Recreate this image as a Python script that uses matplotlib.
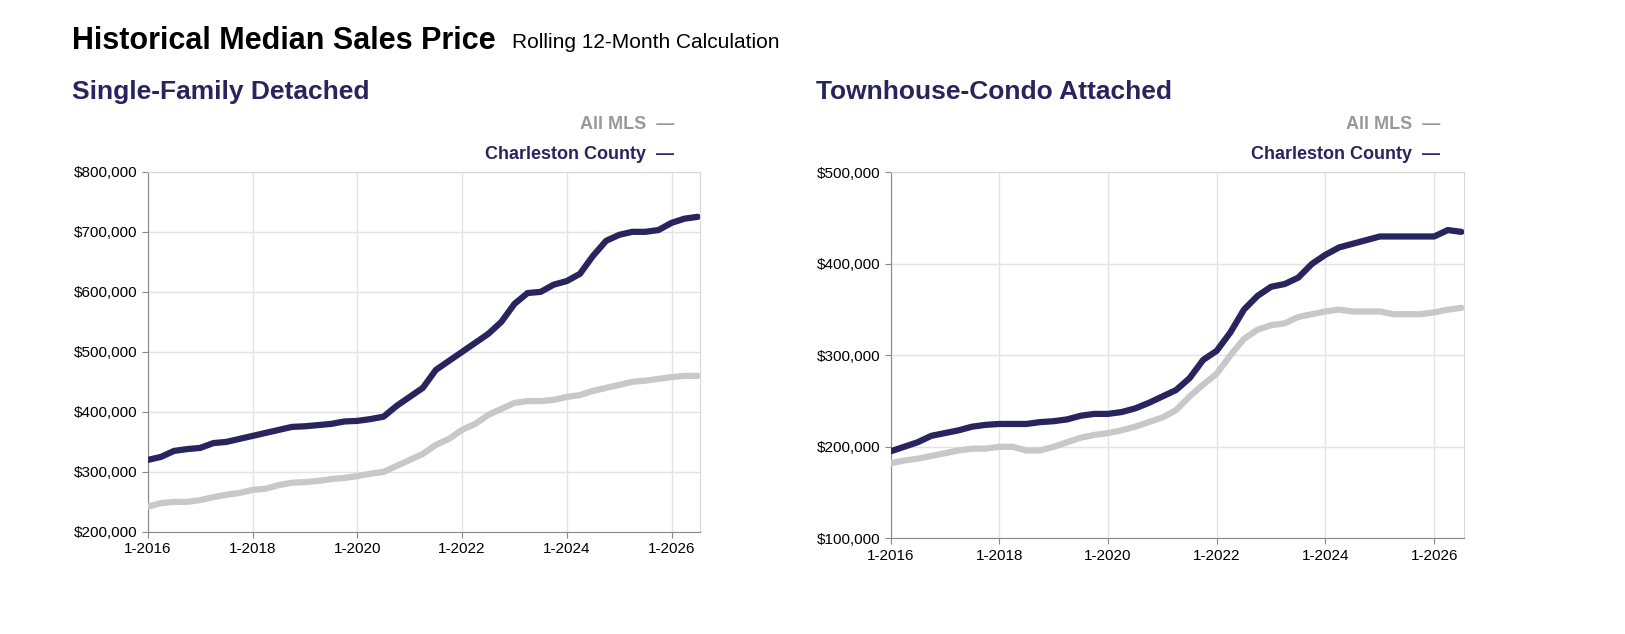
import matplotlib
matplotlib.use("Agg")
import matplotlib.pyplot as plt
import matplotlib.ticker as mticker
import numpy as np

# quarterly points, 1-2016 .. 7-2026
years = [2016 + 0.25 * i for i in range(43)]

sfd_county = [320, 325, 335, 338, 340, 348, 350, 355, 360, 365, 370, 375, 376, 378, 380, 384,
              385, 388, 392, 410, 425, 440, 470, 485, 500, 515, 530, 550, 580, 598, 600, 612,
              618, 630, 660, 685, 695, 700, 700, 703, 715, 722, 725]
sfd_all = [242, 248, 250, 250, 253, 258, 262, 265, 270, 272, 278, 282, 283, 285, 288, 290,
           293, 297, 300, 310, 320, 330, 345, 355, 370, 380, 395, 405, 415, 418, 418, 420,
           425, 428, 435, 440, 445, 450, 452, 455, 458, 460, 460]
th_county = [195, 200, 205, 212, 215, 218, 222, 224, 225, 225, 225, 227, 228, 230, 234, 236,
             236, 238, 242, 248, 255, 262, 275, 295, 305, 325, 350, 365, 375, 378, 385, 400,
             410, 418, 422, 426, 430, 430, 430, 430, 430, 437, 435]
th_all = [182, 185, 187, 190, 193, 196, 198, 198, 200, 200, 196, 196, 200, 205, 210, 213,
          215, 218, 222, 227, 232, 240, 255, 268, 280, 300, 318, 328, 333, 335, 342, 345,
          348, 350, 348, 348, 348, 345, 345, 345, 347, 350, 352]

xticks = [2016, 2018, 2020, 2022, 2024, 2026]
xlabels = ["1-2016", "1-2018", "1-2020", "1-2022", "1-2024", "1-2026"]

NAVY = "#27245e"
GREY = "#c8c8c8"
narrow = ["Liberation Sans Narrow", "Liberation Sans", "DejaVu Sans"]

fig = plt.figure(figsize=(16.25, 6.34), dpi=100)
fig.text(0.044, 0.935, "Historical Median Sales Price", family=narrow, fontsize=22,
         fontweight="bold", va="center")
fig.text(0.315, 0.933, "Rolling 12-Month Calculation", family=narrow, fontsize=15, va="center")


def panel(rect, title, tx, county, allmls, ylim, yticks, leg_x):
    ax = fig.add_axes(rect)
    ax.plot(years, allmls, color=GREY, lw=4.5, solid_capstyle="round", zorder=3)
    ax.plot(years, county, color=NAVY, lw=4.5, solid_capstyle="round", zorder=4)
    ax.set_xlim(2016, 2026.55)
    ax.set_ylim(*ylim)
    ax.set_yticks(yticks)
    ax.yaxis.set_major_formatter(mticker.FuncFormatter(lambda v, p: f"${v * 1000:,.0f}"))
    ax.set_xticks(xticks)
    ax.set_xticklabels(xlabels)
    ax.tick_params(labelsize=11, length=4, color="#888888")
    for lab in ax.get_xticklabels() + ax.get_yticklabels():
        lab.set_family(["Liberation Sans", "DejaVu Sans"])
    ax.grid(True, color="#e3e3e3", lw=1)
    for s in ax.spines.values():
        s.set_color("#d8d8d8")
    ax.spines["left"].set_color("#888888")
    ax.spines["bottom"].set_color("#888888")
    fig.text(tx, 0.855, title, family=narrow, fontsize=19, fontweight="bold", color=NAVY,
             va="center")
    fig.text(leg_x, 0.803, "All MLS  \u2014", family=narrow, fontsize=13, fontweight="bold",
             color="#999999", ha="right", va="center")
    fig.text(leg_x, 0.756, "Charleston County  \u2014", family=narrow, fontsize=13,
             fontweight="bold", color=NAVY, ha="right", va="center")
    return ax


panel([0.091, 0.161, 0.340, 0.568], "Single-Family Detached", 0.044, sfd_county, sfd_all,
      (200, 800), [200, 300, 400, 500, 600, 700, 800], 0.415)
panel([0.548, 0.151, 0.353, 0.577], "Townhouse-Condo Attached", 0.502, th_county, th_all,
      (100, 500), [100, 200, 300, 400, 500], 0.886)

fig.savefig("out.png", dpi=100)
